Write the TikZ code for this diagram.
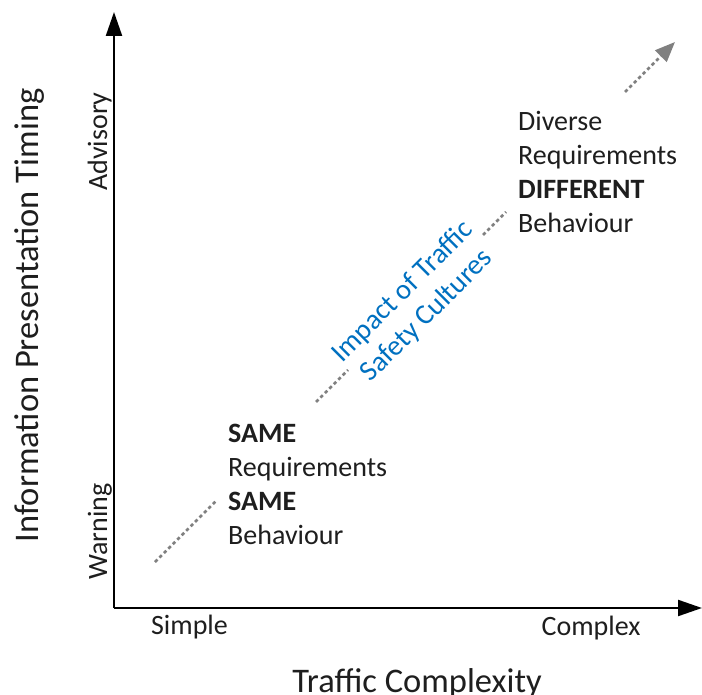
\documentclass[tikz,border=0pt]{standalone}
\usepackage{fontspec}
\setmainfont{Carlito}
\usetikzlibrary{arrows.meta}
\definecolor{txt}{RGB}{30,30,30}
\definecolor{dashgray}{RGB}{128,128,128}
\definecolor{impblue}{RGB}{0,112,192}
\begin{document}
\begin{tikzpicture}[x=1pt,y=-1pt,
  axisline/.style={line width=2.2pt,draw=black,-{Triangle[length=24pt,width=16pt]}},
  trend/.style={line width=2.5pt,draw=dashgray,dash pattern=on 3.4pt off 2.9pt},
  trendtip/.style={trend,-{Triangle[length=20pt,width=16pt]}},
  lbl/.style={inner sep=0pt,font=\fontsize{28}{34}\selectfont,text=txt},
  title/.style={inner sep=0pt,font=\fontsize{34.5}{40}\selectfont,text=txt},
  blk/.style={lbl,anchor=base west},
  imp/.style={inner sep=0pt,font=\fontsize{28.5}{34}\selectfont,text=impblue,align=center,rotate=45}]
\useasboundingbox (0,0) rectangle (702,695);
% axes
\coordinate (origin) at (114,608);
\coordinate (ytop) at (114,12);
\coordinate (xend) at (702,608);
\draw[axisline] (origin) -- (ytop);
\draw[axisline] (origin) -- (xend);
% axis labels
\node[title,rotate=90,anchor=base] (ytitle) at (38,315.5) {Information Presentation Timing};
\node[title,anchor=base] (xtitle) at (417,692) {Traffic Complexity};
\node[lbl,rotate=90,anchor=base] (warn) at (107,531.5) {Warning};
\node[lbl,rotate=90,anchor=base] (adv) at (107,141.5) {Advisory};
\node[lbl,anchor=base] (simple) at (189.5,634) {Simple};
\node[lbl,anchor=base] (complex) at (591,635) {Complex};
% lower block
\node[blk] (s1) at (228,442) {\bfseries SAME};
\node[blk] (s2) at (228,476) {Requirements};
\node[blk] (s3) at (228,510) {\bfseries SAME};
\node[blk] (s4) at (228,544) {Behaviour};
% upper block
\node[blk] (d1) at (518,131) {Diverse};
\node[blk] (d2) at (518,165) {Requirements};
\node[blk] (d3) at (518,199) {\bfseries DIFFERENT};
\node[blk] (d4) at (518,233) {Behaviour};
% impact text
\node[imp] (impact) at (415,304) {Impact of Traffic\\Safety Cultures};
% trend line segments
\coordinate (t0) at (155,562);
\coordinate (t1) at (217,500);
\coordinate (t2) at (316,402);
\coordinate (t3) at (348,370);
\coordinate (t4) at (483,235);
\coordinate (t5) at (506,212);
\coordinate (t6) at (625,92);
\coordinate (t7) at (675,42);
\draw[trend] (t0) -- (t1);
\draw[trend] (t2) -- (t3);
\draw[trend] (t4) -- (t5);
\draw[trendtip] (t6) -- (t7);
\end{tikzpicture}
\end{document}
